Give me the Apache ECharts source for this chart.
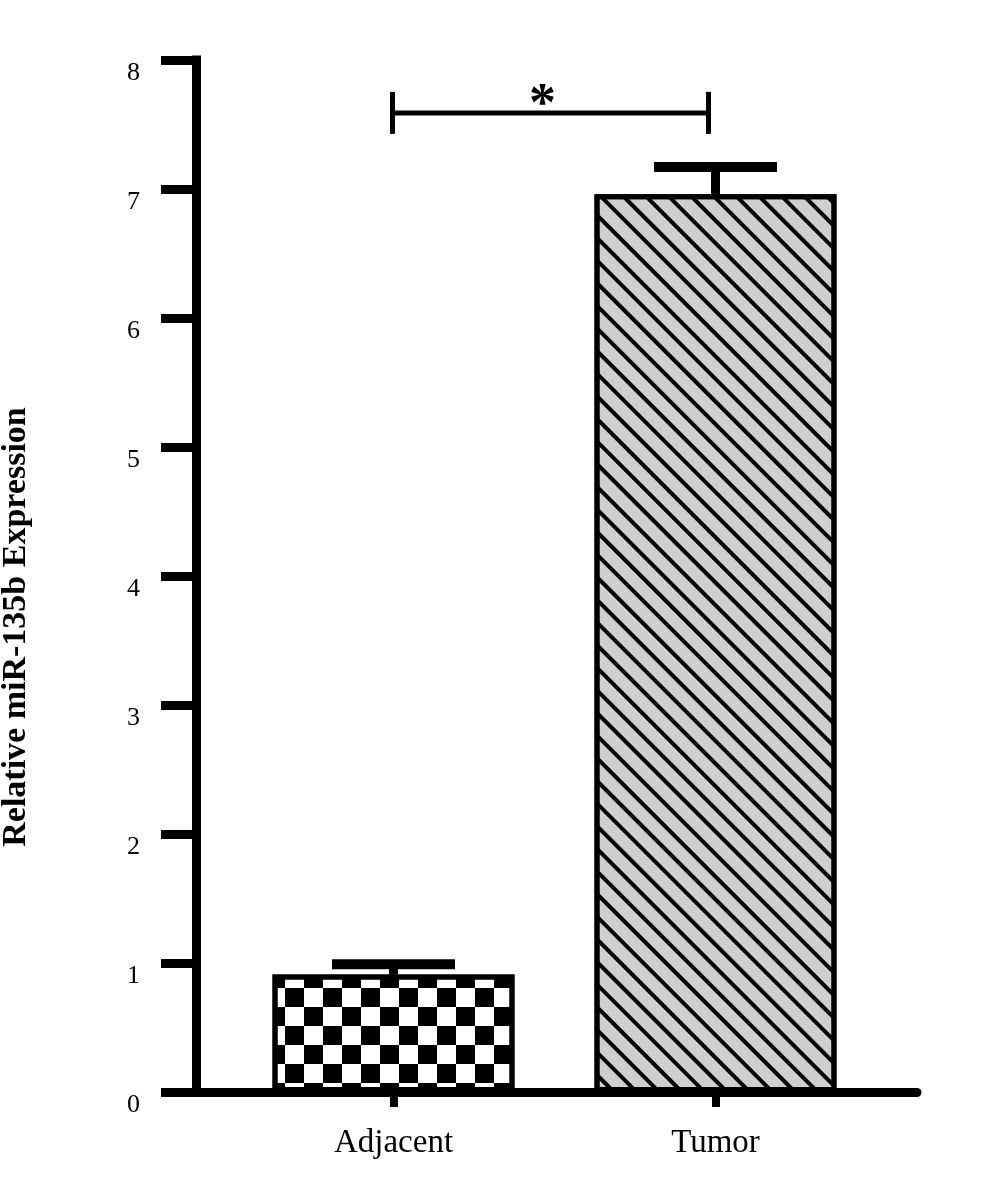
<!DOCTYPE html>
<html><head><meta charset="utf-8">
<script src="https://cdn.jsdelivr.net/npm/echarts@6/dist/echarts.min.js"></script>
<style>html,body{margin:0;padding:0;background:#fff}#c{width:1000px;height:1177px}</style>
</head><body><div id="c"></div>
<script>
// ---- data ----
const categories = ['Adjacent', 'Tumor'];
const means = [0.91, 6.96];
const upperErrors = [0.99, 7.17];
const yMin = 0, yMax = 8, yInterval = 1;
const bracketLevel = 7.59;
const bracketLabel = '*';
const yAxisTitle = 'Relative miR-135b Expression';

const serif = '"Liberation Serif", "Times New Roman", serif';
const chart = echarts.init(document.getElementById('c'), null, {renderer: 'canvas'});

const checker = {
  symbol: 'rect', symbolSize: 1, color: '#000',
  dashArrayX: [[19, 19], [0, 19, 19, 0]],
  dashArrayY: [19, 0]
};
const stripes = {
  symbol: 'rect', symbolSize: 1, color: '#000',
  dashArrayX: [1, 0],
  dashArrayY: [4, 11.5],
  rotation: Math.PI / 4
};
const barStyles = [
  {color: '#ffffff', borderColor: '#000', borderWidth: 5, decal: checker},
  {color: '#cfcfcf', borderColor: '#000', borderWidth: 5, decal: stripes}
];

const option = {
  animation: false,
  backgroundColor: '#fff',
  grid: [
    {left: 196, right: 83, top: 60, bottom: 85, containLabel: false, outerBoundsMode: 'none'},
    {left: 232.5, right: 123.5, top: 60, bottom: 85, containLabel: false, outerBoundsMode: 'none'}
  ],
  xAxis: [
    {type: 'value', gridIndex: 0, min: 0, max: 1,
     axisLine: {show: true, lineStyle: {color: '#000', width: 9}},
     axisTick: {show: false}, axisLabel: {show: false}, splitLine: {show: false}},
    {type: 'category', gridIndex: 1, data: categories,
     axisLine: {show: false},
     axisTick: {show: true, alignWithLabel: true, length: 15, lineStyle: {color: '#000', width: 8}},
     axisLabel: {color: '#000', fontFamily: serif, fontSize: 33, margin: 35},
     splitLine: {show: false}}
  ],
  yAxis: [
    {type: 'value', gridIndex: 0, min: yMin, max: yMax, interval: yInterval,
     name: yAxisTitle, nameLocation: 'middle', nameRotate: 90, nameGap: 163,
     nameTextStyle: {color: '#000', fontFamily: serif, fontWeight: 'bold', fontSize: 34,
                     padding: [0, 102, 0, 0]},
     axisLine: {show: true, lineStyle: {color: '#000', width: 9, cap: 'square'}},
     axisTick: {show: true, length: 35, lineStyle: {color: '#000', width: 9}},
     axisLabel: {color: '#000', fontFamily: serif, fontSize: 26, margin: 56, verticalAlign: 'top'},
     splitLine: {show: false}},
    {type: 'value', gridIndex: 1, min: yMin, max: yMax, interval: yInterval, show: false}
  ],
  series: [
    {type: 'bar', xAxisIndex: 1, yAxisIndex: 1, barWidth: 242,
     data: means.map((v, i) => ({value: v, itemStyle: barStyles[i]})),
     z: 2},
    {type: 'custom', xAxisIndex: 1, yAxisIndex: 1, z: 3,
     data: means.map((v, i) => [i, v, upperErrors[i]]),
     renderItem: function (params, api) {
       const base = api.coord([api.value(0), api.value(1)]);
       const top = api.coord([api.value(0), api.value(2)]);
       return {type: 'group', children: [
         {type: 'line', shape: {x1: base[0], y1: base[1], x2: top[0], y2: top[1]},
          style: {stroke: '#000', lineWidth: 9}},
         {type: 'line', shape: {x1: top[0] - 61.5, y1: top[1], x2: top[0] + 61.5, y2: top[1]},
          style: {stroke: '#000', lineWidth: 10}}
       ]};
     }},
    {type: 'custom', xAxisIndex: 1, yAxisIndex: 1, z: 3,
     data: [[0, 1, bracketLevel]],
     renderItem: function (params, api) {
       const a = api.coord([api.value(0), api.value(2)]);
       const b = api.coord([api.value(1), api.value(2)]);
       const x1 = a[0] - 1, x2 = b[0] - 7, y = a[1];
       return {type: 'group', children: [
         {type: 'line', shape: {x1: x1, y1: y, x2: x2, y2: y}, style: {stroke: '#000', lineWidth: 5}},
         {type: 'line', shape: {x1: x1, y1: y - 21, x2: x1, y2: y + 21}, style: {stroke: '#000', lineWidth: 5}},
         {type: 'line', shape: {x1: x2, y1: y - 21, x2: x2, y2: y + 21}, style: {stroke: '#000', lineWidth: 5}},
         {type: 'text', x: (x1 + x2) / 2 - 8, y: y + 20,
          style: {text: bracketLabel, fill: '#000', font: 'bold 54px "Liberation Serif", serif',
                  align: 'center', verticalAlign: 'bottom'}}
       ]};
     }}
  ]
};
chart.setOption(option);
</script></body></html>
